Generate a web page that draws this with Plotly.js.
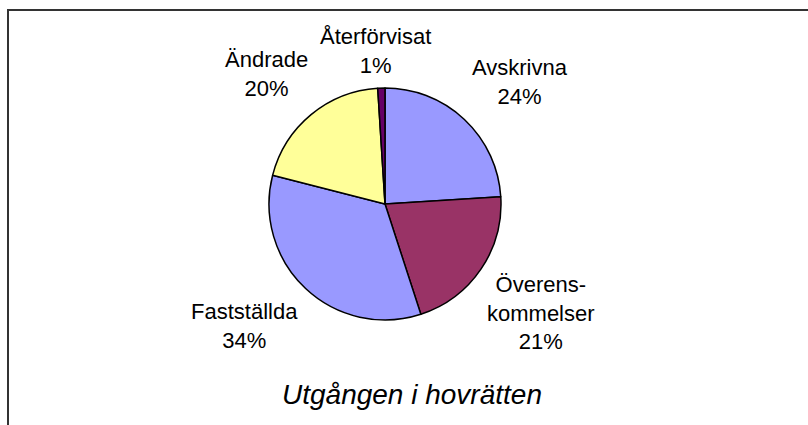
<!DOCTYPE html>
<html>
<head>
<meta charset="utf-8">
<script src="https://cdn.plot.ly/plotly-3.0.1.min.js"></script>
<style>
  html, body { margin: 0; padding: 0; background: #fff; overflow: hidden; }
  #chart { width: 808px; height: 425px; }
</style>
</head>
<body>
<div id="chart"></div>
<script>
// Data
var categories = ["Avskrivna", "Överenskommelser", "Fastställda", "Ändrade", "Återförvisat"];
var displayLabels = ["Avskrivna", "Överens-<br>kommelser", "Fastställda", "Ändrade", "Återförvisat"];
var shares = [24, 21, 34, 20, 1];
var chartTitle = "Utgången i hovrätten";

// Styles / layout (not data)
var sliceColors = ["#9999FF", "#993366", "#9999FF", "#FFFF99", "#660066"];
var W = 808, H = 425;
var cx = 385, cy = 204, r = 116;
var labelPos = [[520, 82], [541, 313], [244, 326], [266, 74], [375, 51]];

function px(x) { return x / W; }
function py(y) { return 1 - y / H; }

var total = shares.reduce(function (a, b) { return a + b; }, 0);

var annotations = categories.map(function (c, i) {
  return {
    xref: "paper", yref: "paper",
    x: px(labelPos[i][0]), y: py(labelPos[i][1]),
    xanchor: "center", yanchor: "middle",
    text: displayLabels[i] + "<br>" + Math.round(shares[i] / total * 100) + "%",
    showarrow: false,
    align: "center",
    font: { family: "Liberation Sans, Arial, sans-serif", size: 22, color: "#000" }
  };
});
annotations.push({
  xref: "paper", yref: "paper",
  x: px(412), y: py(394),
  xanchor: "center", yanchor: "middle",
  text: "<i>" + chartTitle + "</i>",
  showarrow: false,
  font: { family: "Liberation Sans, Arial, sans-serif", size: 28, color: "#000" }
});

var trace = {
  type: "pie",
  labels: categories,
  values: shares,
  sort: false,
  direction: "clockwise",
  rotation: 0,
  textinfo: "none",
  hoverinfo: "label+percent",
  marker: { colors: sliceColors, line: { color: "#000", width: 1.5 } },
  domain: { x: [px(cx - r), px(cx + r)], y: [py(cy + r), py(cy - r)] }
};

var layout = {
  width: W, height: H,
  margin: { l: 0, r: 0, t: 0, b: 0 },
  paper_bgcolor: "#fff",
  showlegend: false,
  annotations: annotations,
  shapes: [
    { type: "line", xref: "paper", yref: "paper", x0: px(8), x1: px(8), y0: py(10), y1: 0,
      line: { color: "#333", width: 2 } },
    { type: "line", xref: "paper", yref: "paper", x0: px(7), x1: 1, y0: py(10), y1: py(10),
      line: { color: "#333", width: 2 } }
  ]
};

Plotly.newPlot("chart", [trace], layout, { staticPlot: true, displayModeBar: false });
</script>
</body>
</html>
